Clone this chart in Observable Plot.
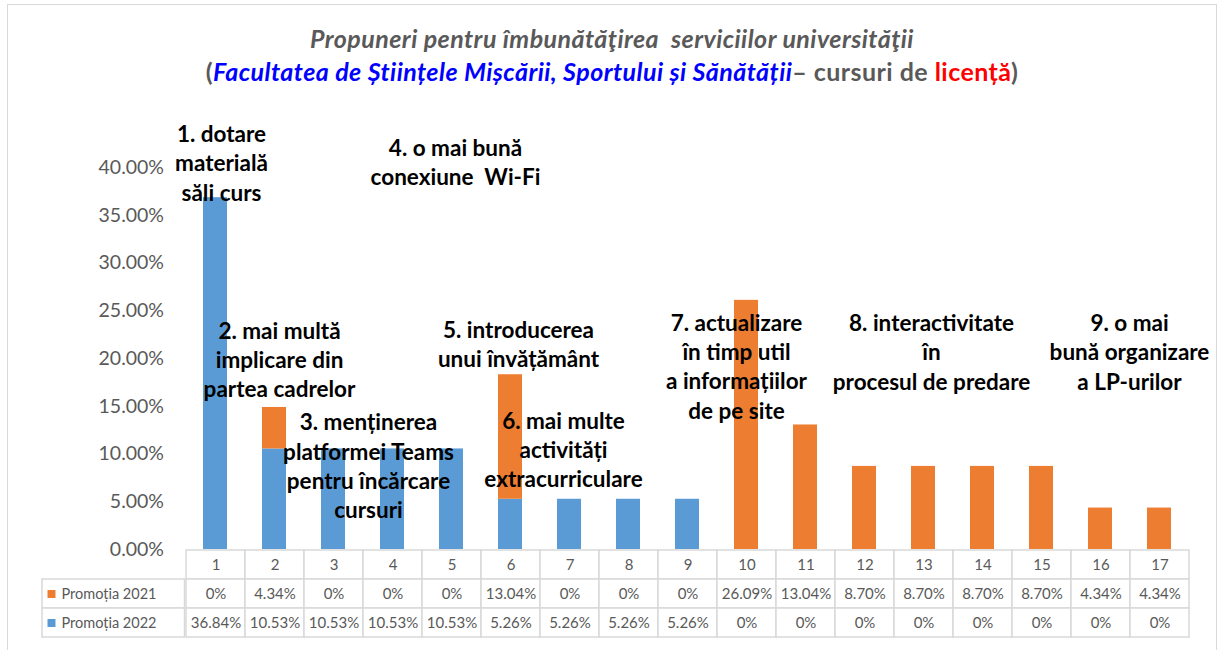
<!DOCTYPE html>
<html>
<head>
<meta charset="utf-8">
<script src="https://cdn.jsdelivr.net/npm/d3@7"></script>
<script src="https://cdn.jsdelivr.net/npm/@observablehq/plot@0.6"></script>
<style>
  body { margin: 0; background: #fff; }
  #wrap { position: relative; width: 1223px; height: 650px; overflow: hidden; font-family: Lato, "Open Sans", sans-serif; }
  #frame { position: absolute; left: 7px; top: 4px; width: 1208px; height: 700px; border: 1.5px solid #d9d9d9; pointer-events: none; }
  #title { position: absolute; left: 7px; width: 1210px; top: 22px; text-align: center; font-weight: bold; font-size: 25px; letter-spacing: 0.45px; line-height: 33px; color: #595959; }
  #title .l1 { font-style: italic; white-space: pre; }
  #main { position: absolute; left: 0; top: 95px; }
  #table { position: absolute; left: 0; top: 548px; }
  #legend { position: absolute; left: 0; top: 548px; }
</style>
</head>
<body>
<div id="wrap">
  <div id="frame"></div>
  <div id="title">
    <div class="l1">Propuneri pentru îmbunătăţirea  serviciilor universităţii</div>
    <div>(<span style="color:#0000ff;font-style:italic">Facultatea de Științele Mișcării, Sportului și Sănătății</span>– cursuri de <span style="color:#ff0000">licență</span>)</div>
  </div>
  <div id="main"></div>
  <div id="legend"></div>
  <div id="table"></div>
</div>
<script>
// ---- data ----
const categories = ["1","2","3","4","5","6","7","8","9","10","11","12","13","14","15","16","17"];
const seriesNames = ["Promoția 2021", "Promoția 2022"];
const seriesColors = ["#ed7d31", "#5b9bd5"];
const promotia2021 = [0, 4.34, 0, 0, 0, 13.04, 0, 0, 0, 26.09, 13.04, 8.70, 8.70, 8.70, 8.70, 4.34, 4.34];
const promotia2022 = [36.84, 10.53, 10.53, 10.53, 10.53, 5.26, 5.26, 5.26, 5.26, 0, 0, 0, 0, 0, 0, 0, 0];

// annotation labels: anchored category, y (percent), horizontal nudge (px)
const annCats = ["1", "2", "4", "5", "6", "7", "10", "13", "16"];
const annY = [40.58, 20.0, 8.85, 40.63, 21.62, 10.58, 19.29, 20.79, 20.79];
const annDx = [6, 5, -24, 4, 8, -6, -10, 8, 29];
const annText = [
  "1. dotare\nmaterială\nsăli curs",
  "2. mai multă\nimplicare din\npartea cadrelor",
  "3. menținerea\nplatformei Teams\npentru încărcare\ncursuri",
  "4. o mai bună\nconexiune  Wi-Fi",
  "5. introducerea\nunui învățământ",
  "6. mai multe\nactivități\nextracurriculare",
  "7. actualizare\nîn timp util\na informațiilor\nde pe site",
  "8. interactivitate\nîn\nprocesul de predare",
  "9. o mai\nbună organizare\na LP-urilor"
];

// ---- derived tables ----
const bars = [];
categories.forEach((c, i) => bars.push({cat: c, series: seriesNames[1], value: promotia2022[i]}));
categories.forEach((c, i) => bars.push({cat: c, series: seriesNames[0], value: promotia2021[i]}));

const fmt = v => v === 0 ? "0%" : v.toFixed(2) + "%";
const rows = ["h", seriesNames[0], seriesNames[1]];
const cells = [];
categories.forEach((c, i) => {
  cells.push({cat: c, row: "h", label: c});
  cells.push({cat: c, row: seriesNames[0], label: fmt(promotia2021[i])});
  cells.push({cat: c, row: seriesNames[1], label: fmt(promotia2022[i])});
});
const anns = annCats.map((c, i) => ({cat: c, y: annY[i], dx: annDx[i], label: annText[i]}));

const FONT = "Lato, 'Open Sans', sans-serif";
const ML = 184.5, MR = 33.5;

const main = Plot.plot({
  width: 1223, height: 470,
  marginTop: 72, marginBottom: 16, marginLeft: ML, marginRight: MR,
  x: {domain: categories, paddingInner: 0.59, paddingOuter: 0.295, axis: null},
  y: {domain: [0, 40], ticks: 8, tickFormat: d => d.toFixed(2) + "%", label: null, tickSize: 0, tickPadding: 21},
  color: {domain: seriesNames, range: seriesColors},
  style: {fontFamily: FONT, fontSize: "19.5px", color: "#595959", overflow: "visible", background: "transparent"},
  marks: [
    Plot.barY(bars, {x: "cat", y: "value", fill: "series", order: [seriesNames[1], seriesNames[0]]}),
    ...anns.map(a => Plot.text([a], {x: "cat", y: "y", text: "label", dx: a.dx,
      fontSize: 22.5, fontWeight: "bold", fill: "black", lineHeight: 1.3, fontFamily: FONT}))
  ]
});
document.getElementById("main").appendChild(main);

const table = Plot.plot({
  width: 1223, height: 102,
  marginTop: 1, marginBottom: 12, marginLeft: ML, marginRight: MR,
  x: {domain: categories, padding: 0, axis: null},
  y: {domain: rows, padding: 0, axis: null},
  style: {fontFamily: FONT, background: "transparent", overflow: "visible"},
  marks: [
    Plot.cell(cells, {x: "cat", y: "row", fill: "white", stroke: "#d9d9d9", strokeWidth: 1.5, inset: 0}),
    Plot.text(cells, {x: "cat", y: "row", text: "label", fill: "#595959", fontSize: 15, fontFamily: FONT})
  ]
});
document.getElementById("table").appendChild(table);

const legendRows = seriesNames.map(s => ({row: s, label: s}));
const legend = Plot.plot({
  width: 186, height: 102,
  marginTop: 1, marginBottom: 12, marginLeft: 42, marginRight: 1.5,
  y: {domain: rows, padding: 0, axis: null},
  color: {domain: seriesNames, range: seriesColors},
  style: {fontFamily: FONT, background: "transparent", overflow: "visible"},
  marks: [
    Plot.cell(legendRows, {y: "row", fill: "white", stroke: "#d9d9d9", strokeWidth: 1.5, inset: 0}),
    Plot.dot(legendRows, {y: "row", frameAnchor: "left", dx: 9, symbol: "square", r: 4.5, fill: "label"}),
    Plot.text(legendRows, {y: "row", text: "label", frameAnchor: "left", textAnchor: "start", dx: 19, fill: "#595959", fontSize: 14.5, fontFamily: FONT})
  ]
});
document.getElementById("legend").appendChild(legend);
</script>
</body>
</html>
